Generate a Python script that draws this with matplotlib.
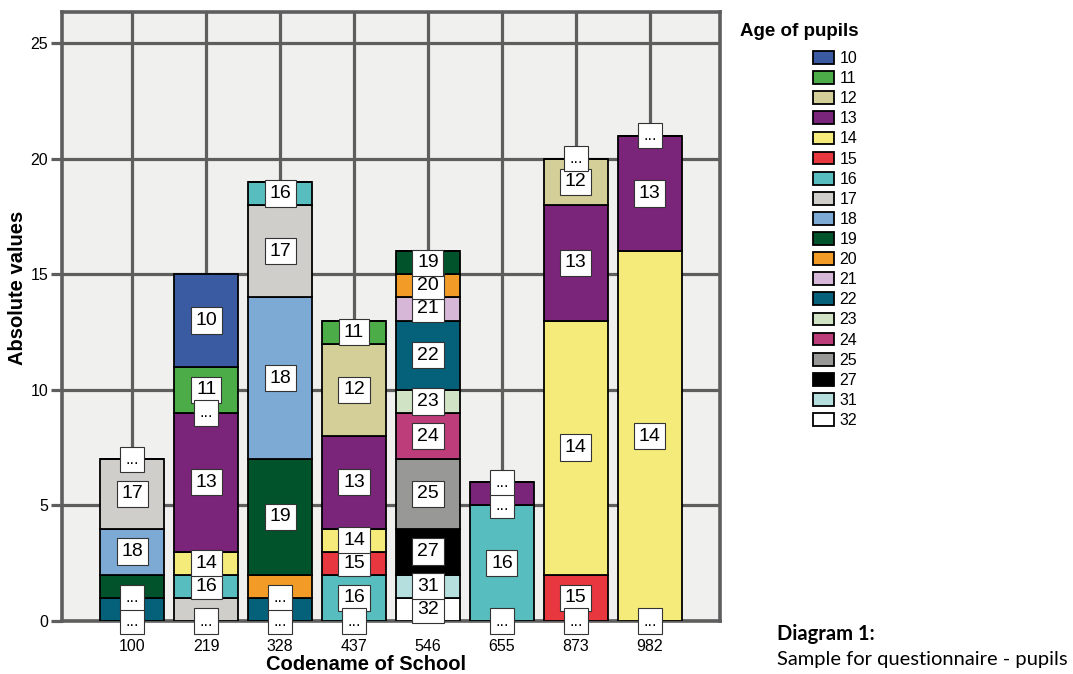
import matplotlib
matplotlib.use("Agg")
import matplotlib.pyplot as plt
from matplotlib.patches import Patch
import numpy as np

schools = ['100', '219', '328', '437', '546', '655', '873', '982']
ages = [10, 11, 12, 13, 14, 15, 16, 17, 18, 19, 20, 21, 22, 23, 24, 25, 27, 31, 32]

counts = {
    10: [0, 4, 0, 0, 0, 0, 0, 0],
    11: [0, 2, 0, 1, 0, 0, 0, 0],
    12: [0, 0, 0, 4, 0, 0, 2, 0],
    13: [0, 6, 0, 4, 0, 1, 5, 5],
    14: [0, 1, 0, 1, 0, 0, 11, 16],
    15: [0, 0, 0, 1, 0, 0, 2, 0],
    16: [0, 1, 1, 2, 0, 5, 0, 0],
    17: [3, 1, 4, 0, 0, 0, 0, 0],
    18: [2, 0, 7, 0, 0, 0, 0, 0],
    19: [1, 0, 5, 0, 1, 0, 0, 0],
    20: [0, 0, 1, 0, 1, 0, 0, 0],
    21: [0, 0, 0, 0, 1, 0, 0, 0],
    22: [1, 0, 1, 0, 3, 0, 0, 0],
    23: [0, 0, 0, 0, 1, 0, 0, 0],
    24: [0, 0, 0, 0, 2, 0, 0, 0],
    25: [0, 0, 0, 0, 3, 0, 0, 0],
    27: [0, 0, 0, 0, 2, 0, 0, 0],
    31: [0, 0, 0, 0, 1, 0, 0, 0],
    32: [0, 0, 0, 0, 1, 0, 0, 0],
}

colors = {
    10: '#3A5BA2', 11: '#4CAC48', 12: '#D4CF98', 13: '#7A2579', 14: '#F4EB7A',
    15: '#E8373F', 16: '#57BDBE', 17: '#CFCECB', 18: '#7CAAD5', 19: '#01532B',
    20: '#F39B27', 21: '#D6B7D7', 22: '#05607A', 23: '#D0E4C5', 24: '#BD3C7A',
    25: '#989896', 27: '#000000', 31: '#B4DFDE', 32: '#FFFFFF',
}

# segments whose label is collapsed to "..."
hidden_labels = {'100': [22, 19], '219': [17], '328': [22, 20], '655': [13]}
# additional "..." labels at these count levels
extra_ellipsis = {'100': [7], '219': [9], '437': [0], '655': [0, 6],
                  '873': [0, 20], '982': [0, 21]}

fig = plt.figure(figsize=(10.73, 6.74), dpi=100)
ax = fig.add_axes([62 / 1073, 1 - 621 / 674, (720 - 62) / 1073, (621 - 12) / 674])
ax.set_facecolor('#F0F0EE')

x = np.arange(len(schools))
width = 0.86
grid_c = '#5E5E5E'
bottom = np.zeros(len(schools))
label_box = dict(boxstyle='square,pad=0.24', fc='white', ec='#333333', lw=0.8)
ell_box = dict(boxstyle='square,pad=0.32', fc='white', ec='#333333', lw=0.8)
lab_font = 'Liberation Sans'

for age in reversed(ages):
    vals = np.array(counts[age], dtype=float)
    ax.bar(x, vals, width, bottom=bottom, color=colors[age], edgecolor='black',
           linewidth=1.3, zorder=3)
    for i, v in enumerate(vals):
        if v <= 0:
            continue
        s = schools[i]
        if age in hidden_labels.get(s, []):
            ax.text(x[i], bottom[i], '...', ha='center', va='center', fontsize=11.5,
                    family=lab_font, bbox=ell_box, zorder=5)
        else:
            ax.text(x[i], bottom[i] + v / 2, str(age), ha='center', va='center',
                    fontsize=14, family=lab_font, bbox=label_box, zorder=5)
    bottom += vals

for i, s in enumerate(schools):
    for yv in extra_ellipsis.get(s, []):
        ax.text(x[i], yv, '...', ha='center', va='center', fontsize=11.5,
                family=lab_font, bbox=ell_box, zorder=5)

ax.set_xlim(-0.95, len(schools) - 1 + 0.95)
ax.set_ylim(0, 26.35)
ax.set_yticks([0, 5, 10, 15, 20, 25])
ax.set_xticks(x)
ax.set_xticklabels(schools)
ax.grid(True, color=grid_c, linewidth=2.3, zorder=0)
ax.set_axisbelow(True)
for sp in ax.spines.values():
    sp.set_color(grid_c)
    sp.set_linewidth(2.6)
ax.tick_params(axis='y', length=8, width=2.3, color=grid_c, labelsize=11.5, pad=2)
ax.tick_params(axis='x', length=0, labelsize=11.5, pad=13)
for t in ax.get_xticklabels() + ax.get_yticklabels():
    t.set_family(lab_font)

ax.set_ylabel('Absolute values', fontsize=14.5, fontweight='bold', family=lab_font)
ax.yaxis.set_label_coords((18 - 62) / 658, (621 - 288) / 609)
ax.yaxis.label.set_va('center')
ax.set_xlabel('Codename of School', fontsize=14.5, fontweight='bold', family=lab_font)
ax.xaxis.set_label_coords((366 - 62) / 658, (621 - 665) / 609)
ax.xaxis.label.set_va('center')

# legend
handles = [Patch(facecolor=colors[a], edgecolor='black', linewidth=1.3, label=str(a)) for a in ages]
fig.text(740 / 1073, 1 - 31 / 674, 'Age of pupils', fontsize=13.5, fontweight='bold',
         family=lab_font, ha='left', va='center')
leg = fig.legend(handles=handles, loc='upper left', bbox_to_anchor=(813 / 1073, 1 - 51 / 674),
                 frameon=False, handlelength=1.3, handleheight=0.85,
                 labelspacing=0.32, handletextpad=0.35, borderpad=0, borderaxespad=0,
                 prop={'family': lab_font, 'size': 11.5})

fig.text(777 / 1073, 1 - 634 / 674, 'Diagram 1:', fontsize=14.5, fontweight='bold',
         family='Lato', ha='left', va='center')
fig.text(777 / 1073, 1 - 660 / 674, 'Sample for questionnaire - pupils', fontsize=14.5,
         family='Lato', ha='left', va='center')

fig.savefig('out.png', dpi=100)
